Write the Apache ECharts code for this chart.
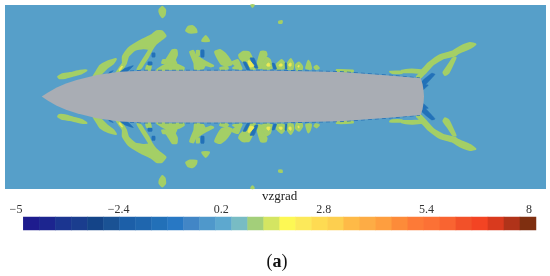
<!DOCTYPE html>
<html><head><meta charset="utf-8">
<style>html,body{margin:0;padding:0;background:#fff}#c{width:550px;height:276px;filter:blur(0.45px)}</style>
<script src="https://cdn.jsdelivr.net/npm/echarts@6/dist/echarts.min.js"></script>
</head><body><div id="c"></div>
<script>
const fieldRect=[[5,5],[546,5],[546,189],[5,189]];
const mirrorY=193.2;
const hullTop=[[41.7,96.6],[48,92.5],[56.7,87.5],[66,83.5],[76.7,80],[96.7,75],[120,71.7],[143,70.7],[275,70.7],[340,72],[391.7,75.7],[420.7,78.3],[422.5,84],[423.5,90],[424,96.6]];
const greenPatches=[
[[159.3,10],[162.3,6.7],[165.3,10],[164.7,15],[162.3,17.3],[160,14]],
[[186,30.7],[188.3,26.7],[192.7,26],[196,29.3],[196.7,32.3],[190,32.7]],
[[205.7,36],[209.3,41],[202,41]],
[[58,76.7],[61.7,74.3],[70,73],[80,70.7],[86.7,70.3],[81.7,73.3],[73.3,75.7],[65,78],[59.3,78.3]],
[[92.7,77.7],[96.7,71],[100,65.7],[108.3,61],[116,59],[113.3,63.3],[106.7,68.3],[101.7,73.3],[96.7,77.7]],
[[115,75],[119.3,68.3],[122.7,63.3],[122.7,56.7],[128.3,48.3],[140,40.7],[151.7,35],[156.7,31],[161.7,31],[165.7,36],[160,40.7],[156,44],[151.7,50],[148.3,56.7],[144,63.3],[140.7,68.3],[137.3,69.3],[141.7,61.7],[146,55],[149,49.3],[143.3,48.3],[135,50],[128.3,56],[126,63.3],[121.7,70],[118.3,75]],
[[168,57],[172.5,50],[176.5,50],[177,55],[175,60],[177,65],[168,65],[165,62]],
[[157,70],[165,65],[178,65],[184,68],[183,70],[170,69],[160,71]],
[[163,60],[166,60],[165,63],[162,63]],
[[147,66],[151,65],[150,70],[146,70]],
[[190,51.7],[193.3,50.7],[195,54.3],[200,58.3],[206.7,62.3],[213.3,65.7],[211,66.7],[205,65],[203.3,68.3],[195,69.3],[194.3,63.3],[191.7,56.7]],
[[196.7,50.7],[199,50.7],[199,55],[197,55]],
[[215,51.7],[220,50],[225,53.3],[230,60],[231.7,64.3],[226.7,65.7],[221.7,64.3],[217.7,58.3]],
[[220,68],[227,66.7],[228,68.7],[221,69.5]],
[[232,62.3],[238,60],[240,65],[241.7,69],[233,68],[236,66]],
[[239,55],[243.3,51.7],[249,52.3],[252.3,58.3],[256.7,65],[255,69],[246.7,68.3],[243.3,61.7],[240,58.3]],
[[258.3,60],[261,51.7],[265.7,51.7],[266.7,55],[263.3,60],[262.3,63.3],[265,66.7],[258.3,68.3],[257.3,64.3]],
[[263.3,63.3],[266.7,57.7],[270,60],[271.7,68.3],[263.3,69]],
[[276.7,64.3],[281.7,60],[284.3,63.3],[284,68.3],[276.7,69]],
[[286.7,65],[290.7,59],[293.3,63.3],[292.7,69],[287.3,69]],
[[295.7,65],[299,62.3],[302.3,66.7],[301.7,69.7],[296.7,69.7]],
[[306,68.3],[308.3,60.7],[310,63.3],[311,69]],
[[314.3,67.3],[316.7,65.7],[319,68.3],[315.7,69]],
[[279,21.5],[282,21],[281.7,23],[279,23]],
[[251,5],[254,5],[252.5,7]],
[[336.7,70],[353,70.5],[353,71.5],[337,71.5]],
[[390,71.7],[402,71.5],[402,73],[392,73]],
[[401.7,70.7],[411.7,69.3],[421.7,70],[428.3,63.3],[440,55],[451.7,51.7],[460,46.7],[470,43],[475.7,44.3],[470,48.3],[458.3,53.3],[455,55.7],[443.3,58.3],[433.3,64.3],[425,73.3],[420,78.3],[416.7,76.7],[420,73.3],[411.7,72.3],[403.3,72.3]],
[[455.7,57.7],[451.7,66.7],[448.3,73.3],[445,75],[443.3,72.3],[448.3,65],[452.7,58.3]]
];
const yellowPatches=[
[[119,70],[122,66],[122.5,66.5],[120,70.5]],
[[248,61],[250,61],[254,66],[250,67]],
[[267,64],[269,63],[270,66],[267,66]],
[[280,64],[282,64],[282,66],[279,66]],
[[289,64],[291,63],[291,66],[289,66]],
[[298,66],[299,65],[299,67],[298,67]]
];
const bluePatches=[
[[119,73],[125,68.3],[133.3,65.7],[128.3,70.7],[123.3,75]],
[[106,76],[110,71.7],[113.3,70.7],[108.3,75]],
[[152,53],[155,53],[155,57],[152,57]],
[[148,62],[152,62],[152,65],[148,65]],
[[201,50],[204,50],[204,57],[201,57]],
[[250,58],[254,58],[258,68],[255,68]],
[[243,62],[246,62],[250,70],[247,70]],
[[272,63.3],[274.3,63.3],[276.7,69],[273.7,69]],
[[285,63],[286.5,63],[287,69],[285.5,69]],
[[421.7,81.7],[431.7,73.3],[435,74.3],[426,84.3],[423.3,86.7]],
[[422.7,85],[428.3,85],[425,88.3],[422.7,90]]
];
const hullEdgeTop=[[130,71],[143,70.3],[230,70.3],[275,70.2],[340,71.6],[391.7,75.3],[420,78]];
const cellColors=['#1e1c8e','#1c258f','#1b3590','#1a3d8e','#144488','#1a5294','#1c5fa8','#1f66ae','#2270b8','#2878c4','#4286c6','#4f98cb','#5da8cf','#78bcc4','#a3cf7a','#d4e562','#fdf854','#fce95a','#fedb52','#fdcf4f','#feba47','#fdac45','#fe9e3f','#fd8b39','#fd7a37','#fc7135','#f96431','#f25129','#f34423','#d93a1e','#b03319','#7f2f10'];
const cellIndex=cellColors.map((c,i)=>i);
const tickValues=[-5,-2.4,0.2,2.8,5.4,8];
const colorTitle='vzgrad';
const caption='a';

const mirror=p=>p.map(([x,y])=>[x,mirrorY-y]);
const both=l=>l.concat(l.map(mirror));
const hull=hullTop.concat(mirror(hullTop).slice(1,-1).reverse());
function polySeries(list,color,smooth,lw){
  return {type:'custom',coordinateSystem:'cartesian2d',xAxisIndex:0,yAxisIndex:0,silent:true,clip:false,
    data:list.map((p,i)=>[i]),encode:{x:0},
    renderItem(params,api){
      const pts=list[params.dataIndex].map(q=>api.coord(q));
      return {type:'polygon',shape:{points:pts,smooth:smooth},style:{fill:color,stroke:lw?color:null,lineWidth:lw||0,lineJoin:'round'}};
    }};
}
function lineSeries(list,color){
  return {type:'custom',coordinateSystem:'cartesian2d',xAxisIndex:0,yAxisIndex:0,silent:true,
    data:list.map((p,i)=>[i]),encode:{x:0},
    renderItem(params,api){
      const pts=list[params.dataIndex].map(q=>api.coord(q));
      return {type:'polyline',shape:{points:pts},style:{stroke:color,lineWidth:1,lineDash:[4,3],fill:null}};
    }};
}
const chart=echarts.init(document.getElementById('c'),null,{renderer:'canvas',width:550,height:276});
chart.setOption({
  animation:false,
  backgroundColor:'#fff',
  title:[
    {text:colorTitle,padding:0,left:262,top:190.5,textStyle:{fontFamily:'Liberation Serif',fontSize:13,fontWeight:'normal',color:'#222'}},
    {text:'{p|(}{b|'+caption+'}{p|)}',padding:0,left:266.5,top:253.5,textStyle:{rich:{p:{fontFamily:'Liberation Serif',fontSize:18,fontWeight:'normal',color:'#111'},b:{fontFamily:'Liberation Serif',fontSize:18,fontWeight:'bold',color:'#111'}}}}
  ],
  grid:[
    {left:0,top:0,width:550,height:276},
    {left:23.3,top:217,width:512.7,height:13},
    {left:16,top:216,width:513,height:0}
  ],
  xAxis:[
    {gridIndex:0,type:'value',min:0,max:550,show:false},
    {gridIndex:1,type:'category',data:cellIndex,show:false},
    {gridIndex:2,type:'value',min:-5,max:8,position:'top',axisLine:{show:false},axisTick:{show:false},splitLine:{show:false},
      axisLabel:{customValues:tickValues,margin:0,verticalAlign:'bottom',fontFamily:'Liberation Serif',fontSize:12,color:'#333',
        formatter:v=>String(v).replace('-','\u2212')}}
  ],
  yAxis:[
    {gridIndex:0,type:'value',min:0,max:276,inverse:true,show:false},
    {gridIndex:1,type:'category',data:[0],show:false},
    {gridIndex:2,type:'value',show:false}
  ],
  series:[
    polySeries([fieldRect],'#569fc9',0,0),
    polySeries(both(greenPatches),'#a4cf66',0.15,1.8),
    polySeries(both(bluePatches),'#2271b8',0.15,0.5),
    polySeries(both(yellowPatches),'#eeea55',0.15,1),
    lineSeries(both([hullEdgeTop]),'#2a74b8'),
    polySeries([hull],'#a9adb4',0,0),
    {type:'heatmap',xAxisIndex:1,yAxisIndex:1,silent:true,
      data:cellIndex.map(i=>({value:[i,0,i],itemStyle:{color:cellColors[i]}}))}
  ]
});
</script></body></html>
